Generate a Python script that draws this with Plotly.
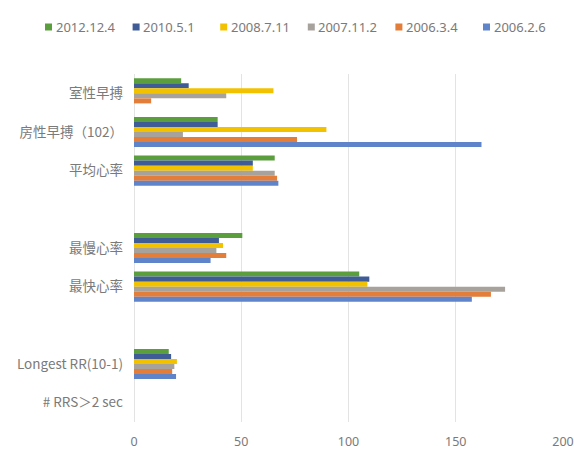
import plotly.graph_objects as go

categories = ["室性早搏", "房性早搏（102）", "平均心率", " ", "最慢心率", "最快心率", "  ", "Longest RR(10-1)", "# RRS＞2 sec"]

series_names = ["2012.12.4", "2010.5.1", "2008.7.11", "2007.11.2", "2006.3.4", "2006.2.6"]
colors = ["#5B9E3E", "#3F5C97", "#F2C200", "#A8A29C", "#E27D3A", "#5F84CA"]

v_2012_12_4 = [22, 39, 65.6, None, 50.5, 105, None, 16.2, 0]
v_2010_5_1 = [25.5, 39, 55.4, None, 39.6, 109.7, None, 17.3, 0]
v_2008_7_11 = [65, 89.7, 55.4, None, 41.5, 108.8, None, 20, 0]
v_2007_11_2 = [43, 22.8, 65.6, None, 38.4, 173, None, 18.8, 0]
v_2006_3_4 = [8, 76, 66.7, None, 43, 166.4, None, 17.8, 0]
v_2006_2_6 = [0, 162, 67.3, None, 35.7, 157.5, None, 19.6, 0]

values = [v_2012_12_4, v_2010_5_1, v_2008_7_11, v_2007_11_2, v_2006_3_4, v_2006_2_6]

W, H = 574, 451
ML, MR, MT, MB = 134, 11, 74, 29
PW, PH = W - ML - MR, H - MT - MB

def px_x(px):
    return (px - ML) / PW

def px_y(py):
    return (H - MB - py) / PH

fig = go.Figure()
for name, vals, col in zip(series_names, values, colors):
    fig.add_trace(go.Bar(
        y=categories, x=vals, name=name, orientation="h",
        marker=dict(color=col, line=dict(width=0)), showlegend=False,
    ))

font_family = "Noto Sans, Noto Sans CJK SC, sans-serif"
txt = "#7a7a7a"

# custom single-row legend (Excel style)
leg_x0, leg_step, leg_y, sym = 45, 87.6, 27, 7
for i, (name, col) in enumerate(zip(series_names, colors)):
    sx = leg_x0 + i * leg_step
    fig.add_shape(type="rect", xref="paper", yref="paper",
                  x0=px_x(sx), x1=px_x(sx + sym),
                  y0=px_y(leg_y + sym / 2), y1=px_y(leg_y - sym / 2),
                  fillcolor=col, line=dict(width=0))
    fig.add_annotation(xref="paper", yref="paper", x=px_x(sx + sym + 1.5),
                       y=px_y(leg_y), xanchor="left", yanchor="middle",
                       text=name, showarrow=False,
                       font=dict(size=13, color=txt, family=font_family))

fig.update_layout(
    width=W, height=H,
    margin=dict(l=ML, r=MR, t=MT, b=MB, autoexpand=False),
    paper_bgcolor="white", plot_bgcolor="white",
    barmode="group", bargap=0.22, bargroupgap=0,
    font=dict(family=font_family, size=12, color=txt),
    showlegend=False,
)
fig.update_xaxes(
    range=[0, 200], tickvals=[0, 50, 100, 150, 200],
    showgrid=True, gridcolor="#e3e3e3", gridwidth=1,
    zeroline=True, zerolinecolor="#e3e3e3", zerolinewidth=1,
    showline=False, tickfont=dict(size=12.5, color=txt),
    ticks="", ticklabelstandoff=10, ticklabeloverflow="allow",
)
fig.update_yaxes(
    categoryorder="array", categoryarray=categories, autorange="reversed",
    showgrid=False, showline=False, ticks="", ticklabelstandoff=10,
    tickfont=dict(size=13.5, color=txt, family="Noto Sans CJK SC, Noto Sans, sans-serif"),
)

fig.write_html("out.html")
